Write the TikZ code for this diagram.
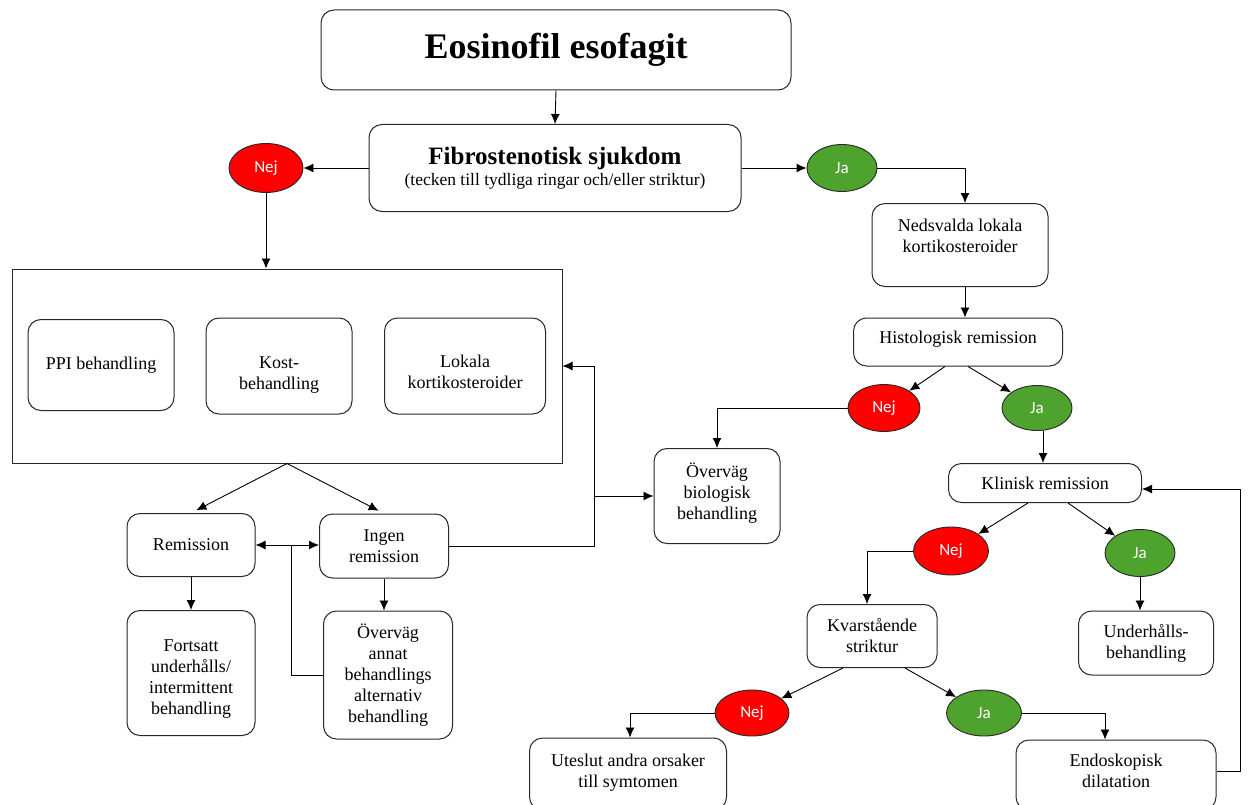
\documentclass[tikz,border=0pt]{standalone}
\usepackage{fontspec}
\setmainfont{Liberation Serif}
\newfontfamily\circfont{Carlito}
\usetikzlibrary{arrows.meta,shapes.geometric}
\definecolor{nejred}{RGB}{255,0,0}
\definecolor{jagreen}{RGB}{78,162,46}
\definecolor{edge}{RGB}{40,40,40}
\newcommand{\dn}[1]{\rule{0pt}{#1}}
\tikzset{
  box/.style={draw=edge, line width=1pt, rounded corners=13pt, fill=white, align=center,
    inner sep=2pt, font=\fontsize{18}{21}\selectfont},
  grpbox/.style={draw=edge, line width=1pt, fill=white, inner sep=0pt},
  nejnode/.style={ellipse, draw=edge, line width=0.9pt, fill=nejred, text=white,
    inner sep=0pt, font=\circfont\fontsize{17}{19}\selectfont},
  janode/.style={nejnode, fill=jagreen},
  arr/.style={-{Latex[length=10pt,width=9pt]}, line width=0.9pt},
  ln/.style={line width=0.9pt}
}
\begin{document}
\begin{tikzpicture}[x=1pt,y=-1pt]
  \useasboundingbox (0,0) rectangle (1249,805);
  \node[box, minimum width=470, minimum height=80] (title) at (556,50)
    {\fontsize{36}{40}\selectfont\bfseries Eosinofil esofagit};
  \node[box, minimum width=372, minimum height=87] (fib) at (555,168)
    {{\fontsize{25}{28}\selectfont\bfseries Fibrostenotisk sjukdom}\\[0pt]
     {\fontsize{17.5}{20}\selectfont (tecken till tydliga ringar och/eller striktur)}};
  \node[nejnode, minimum width=74, minimum height=49] (nej1) at (266,168) {Nej};
  \node[janode, minimum width=70, minimum height=47] (ja1) at (842,168) {Ja};

  \node[grpbox, minimum width=550, minimum height=194] (grp) at (287,366) {};
  \node[box, minimum width=146, minimum height=91] (ppi) at (101,365) {PPI behandling};
  \node[box, minimum width=146, minimum height=96] (kost) at (279,366) {\dn{30pt}Kost-\\behandling};
  \node[box, minimum width=161, minimum height=96] (lok) at (465,366) {\dn{24pt}Lokala\\kortikosteroider};
  \node[box, minimum width=128, minimum height=63] (rem) at (191,545) {Remission};
  \node[box, minimum width=129, minimum height=64] (ingen) at (384,546) {Ingen\\remission};
  \node[box, minimum width=128, minimum height=125] (forts) at (191,673)
    {\dn{24pt}Fortsatt\\underhålls/\\intermittent\\behandling};
  \node[box, minimum width=129, minimum height=128] (annat) at (388,675)
    {Överväg\\annat\\behandlings\\alternativ\\behandling};

  \node[box, minimum width=176, minimum height=83] (neds) at (960,245)
    {Nedsvalda lokala\\kortikosteroider\\[-3pt]};
  \node[box, minimum width=209, minimum height=48] (hist) at (958,342) {Histologisk remission\\[-11pt]};
  \node[nejnode, minimum width=72, minimum height=47] (nej2) at (884,408) {Nej};
  \node[janode, minimum width=70, minimum height=45] (ja2) at (1037,408) {Ja};
  \node[box, minimum width=126, minimum height=95] (bio) at (717,496)
    {Överväg\\biologisk\\behandling\\[-12pt]};
  \node[box, minimum width=193, minimum height=39] (klin) at (1045,483) {Klinisk remission};
  \node[nejnode, minimum width=75, minimum height=48] (nej3) at (951,551) {Nej};
  \node[janode, minimum width=70, minimum height=47] (ja3) at (1140,553) {Ja};
  \node[box, minimum width=130, minimum height=63] (kvar) at (872,636) {Kvarstående\\striktur};
  \node[box, minimum width=135, minimum height=64] (under) at (1146,643) {Underhålls-\\behandling};
  \node[nejnode, minimum width=74, minimum height=46] (nej4) at (752,713) {Nej};
  \node[janode, minimum width=75, minimum height=46] (ja4) at (984,713) {Ja};
  \node[box, minimum width=197, minimum height=72] (utes) at (628,774)
    {Uteslut andra orsaker\\till symtomen\\[-14pt]};
  \node[box, minimum width=200, minimum height=70] (endo) at (1116,775)
    {Endoskopisk\\dilatation\\[-12pt]};

  \draw[arr] (title.south) -- (fib.north);
  \draw[arr] (fib.west) -- (fib.west -| nej1.east);
  \draw[arr] (fib.east) -- (fib.east -| ja1.west);
  \draw[arr] (nej1.south) -- (nej1.south |- grp.north);
  \draw[arr] (ja1.east) -| ([xshift=5pt]neds.north);
  \draw[arr] ([xshift=5pt]neds.south) -- ([xshift=5pt]neds.south |- hist.north);
  \draw[arr] ([xshift=-13pt]hist.south) -- (nej2);
  \draw[arr] ([xshift=10pt]hist.south) -- (ja2);
  \draw[arr] (nej2.west) -| (bio.north);
  \draw[arr] ([xshift=6pt]ja2.south) -- ([xshift=-2pt]klin.north);
  \draw[arr] ([xshift=-17pt]klin.south) -- (nej3);
  \draw[arr] ([xshift=23pt]klin.south) -- (ja3);
  \draw[arr] (nej3.west) -| ([xshift=-5pt]kvar.north);
  \draw[arr] (ja3.south) -- (ja3.south |- under.north);
  \draw[arr] ([xshift=-29pt]kvar.south) -- (nej4);
  \draw[arr] ([xshift=33pt]kvar.south) -- (ja4);
  \draw[arr] (nej4.west) -| ([xshift=2pt]utes.north);
  \draw[arr] (ja4.east) -| ([xshift=-11pt]endo.north);
  \draw[arr] ([yshift=4pt]endo.east) -- ++(24,0) |- ([yshift=-6pt]klin.east);

  \draw[arr, shorten >=6pt] (grp.south) -- (rem.north);
  \draw[arr, shorten >=6pt] (grp.south) -- (ingen.north);
  \draw[{Latex[length=10pt,width=9pt]}-{Latex[length=10pt,width=9pt]}, line width=0.9pt]
    (rem.east) -- (rem.east -| ingen.west);
  \coordinate (mid) at (291,545);
  \draw[ln] (mid) |- (annat.west);
  \draw[arr] (rem.south) -- (forts.north);
  \draw[arr] (ingen.south) -- (ingen.south |- annat.north);
  \coordinate (turn) at ([xshift=145pt]ingen.east);
  \draw[arr] (ingen.east) -- (turn) |- (grp.east);
  \draw[arr] (turn |- bio.west) -- (bio.west);
\end{tikzpicture}
\end{document}
